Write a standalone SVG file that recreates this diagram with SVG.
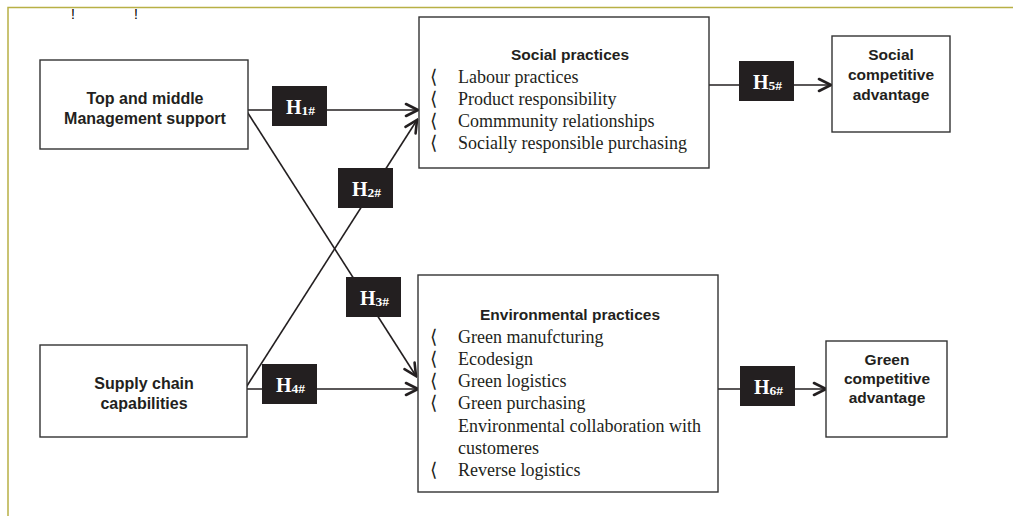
<svg xmlns="http://www.w3.org/2000/svg" width="1013" height="516" viewBox="0 0 1013 516">
<style>
.box{fill:#fff;stroke:#333;stroke-width:1.4}
.hdr{font-family:"Liberation Sans",Arial,sans-serif;font-weight:bold;font-size:15.5px;fill:#231f20}
.hl{font-size:16px}
.item{font-family:"Liberation Serif","Times New Roman",serif;font-size:18px;fill:#231f20}
.bul{font-family:"DejaVu Sans",sans-serif;font-size:19px;fill:#231f20}
.badge{fill:#231f20}
.bt{font-family:"Liberation Serif","Times New Roman",serif;font-weight:bold;font-size:20px;fill:#fff}
.bs{font-size:13.5px}
.conn{stroke:#231f20;stroke-width:1.6;fill:none}
.frame{stroke:#b8b046;stroke-width:1.5;fill:none}
.ex{font-family:"Liberation Sans",Arial,sans-serif;font-size:14px;fill:#000}
</style>
<defs>
<marker id="arr" markerUnits="userSpaceOnUse" viewBox="0 0 16 16" markerWidth="16" markerHeight="16" refX="14" refY="8" orient="auto">
<path d="M2,2 L14,8 L2,14" fill="none" stroke="#231f20" stroke-width="2.6" stroke-linecap="round" stroke-linejoin="miter"/>
</marker>
</defs>
<rect width="1013" height="516" fill="#fff"/>
<path class="frame" d="M8,516 L8,7.5 L1013,7.5"/>
<text class="ex" x="73" y="19" text-anchor="middle">!</text>
<text class="ex" x="136" y="19" text-anchor="middle">!</text>

<g id="connectors">
<line class="conn" x1="246" y1="110" x2="418" y2="110" marker-end="url(#arr)"/>
<line class="conn" x1="246" y1="110" x2="416" y2="376" marker-end="url(#arr)"/>
<line class="conn" x1="245" y1="389" x2="417" y2="120" marker-end="url(#arr)"/>
<line class="conn" x1="245" y1="389" x2="418" y2="389" marker-end="url(#arr)"/>
<line class="conn" x1="709" y1="85" x2="831" y2="85" marker-end="url(#arr)"/>
<line class="conn" x1="718" y1="389" x2="826" y2="389" marker-end="url(#arr)"/>
<g id="H1"><rect class="badge" x="272" y="86" width="55" height="40"/><text class="bt" x="286" y="113.5">H<tspan class="bs" dy="1">1#</tspan></text></g>
<g id="H2"><rect class="badge" x="338" y="168" width="55" height="40"/><text class="bt" x="352" y="195.5">H<tspan class="bs" dy="1">2#</tspan></text></g>
<g id="H3"><rect class="badge" x="346" y="277" width="55" height="40"/><text class="bt" x="360" y="304.5">H<tspan class="bs" dy="1">3#</tspan></text></g>
<g id="H4"><rect class="badge" x="262" y="364" width="55" height="40"/><text class="bt" x="276" y="391.5">H<tspan class="bs" dy="1">4#</tspan></text></g>
<g id="H5"><rect class="badge" x="739" y="61" width="55" height="40"/><text class="bt" x="753" y="88.5">H<tspan class="bs" dy="1">5#</tspan></text></g>
<g id="H6"><rect class="badge" x="740" y="366" width="55" height="40"/><text class="bt" x="754" y="393.5">H<tspan class="bs" dy="1">6#</tspan></text></g>
</g>

<g id="top-management">
<rect class="box" x="40" y="60" width="208" height="89"/>
<text class="hdr hl" x="145" y="104" text-anchor="middle">Top and middle</text>
<text class="hdr hl" x="145" y="124" text-anchor="middle">Management support</text>
</g>

<g id="supply-chain">
<rect class="box" x="40" y="345" width="207" height="92"/>
<text class="hdr hl" x="144" y="389" text-anchor="middle">Supply chain</text>
<text class="hdr hl" x="144" y="409" text-anchor="middle">capabilities</text>
</g>

<g id="social-practices">
<rect class="box" x="419" y="17" width="290" height="151"/>
<text class="hdr" x="570" y="60" text-anchor="middle">Social practices</text>
<text class="bul" x="430" y="83">⟨</text><text class="item" x="458" y="83">Labour practices</text>
<text class="bul" x="430" y="105">⟨</text><text class="item" x="458" y="105">Product responsibility</text>
<text class="bul" x="430" y="127">⟨</text><text class="item" x="458" y="127">Commmunity relationships</text>
<text class="bul" x="430" y="149">⟨</text><text class="item" x="458" y="149">Socially responsible purchasing</text>
</g>

<g id="environmental-practices">
<rect class="box" x="418" y="275" width="300" height="217"/>
<text class="hdr" x="570" y="320" text-anchor="middle">Environmental practices</text>
<text class="bul" x="430" y="343">⟨</text><text class="item" x="458" y="343">Green manufcturing</text>
<text class="bul" x="430" y="365">⟨</text><text class="item" x="458" y="365">Ecodesign</text>
<text class="bul" x="430" y="387">⟨</text><text class="item" x="458" y="387">Green logistics</text>
<text class="bul" x="430" y="409">⟨</text><text class="item" x="458" y="409">Green purchasing</text>
<text class="item" x="458" y="432">Environmental collaboration with</text>
<text class="item" x="458" y="454">customeres</text>
<text class="bul" x="430" y="476">⟨</text><text class="item" x="458" y="476">Reverse logistics</text>
</g>

<g id="social-advantage">
<rect class="box" x="832" y="36" width="118" height="96"/>
<text class="hdr" x="891" y="60" text-anchor="middle">Social</text>
<text class="hdr" x="891" y="80" text-anchor="middle">competitive</text>
<text class="hdr" x="891" y="100" text-anchor="middle">advantage</text>
</g>

<g id="green-advantage">
<rect class="box" x="826" y="341" width="121" height="96"/>
<text class="hdr" x="887" y="365" text-anchor="middle">Green</text>
<text class="hdr" x="887" y="384" text-anchor="middle">competitive</text>
<text class="hdr" x="887" y="403" text-anchor="middle">advantage</text>
</g>
</svg>
